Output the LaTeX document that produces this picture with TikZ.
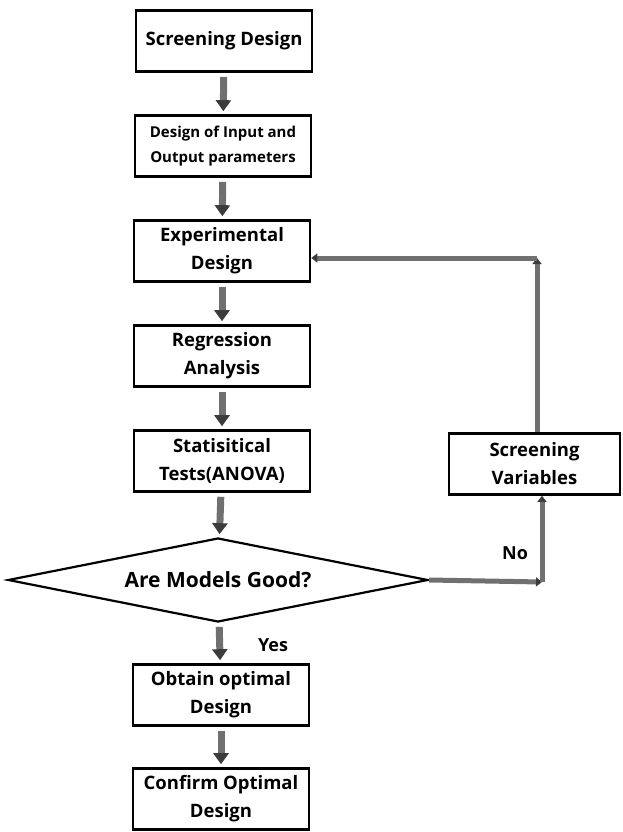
\documentclass[tikz,border=0pt]{standalone}
\usepackage{fontspec}
\setmainfont{Open Sans}
\usetikzlibrary{arrows.meta,shapes.geometric}
\definecolor{shaftgray}{HTML}{707070}
\definecolor{tipgray}{HTML}{3C3C3C}
\begin{document}
\begin{tikzpicture}[x=1pt,y=-1pt,
	stepbox/.style={rectangle, draw=black, line width=2.6pt, fill=white, minimum width=176pt, minimum height=61pt, align=center, inner sep=2pt, font=\bfseries\fontsize{18.5}{28}\selectfont},
	decision/.style={diamond, draw=black, line width=2.2pt, aspect=5, minimum width=420pt, minimum height=84pt, inner sep=0pt, font=\bfseries\fontsize{21}{24}\selectfont},
	flow/.style={-{Triangle[color=tipgray, width=15pt, length=11pt]}, shaftgray, line width=7pt, shorten <=4pt, shorten >=3pt},
	loop/.style={-{Triangle[color=tipgray, width=9pt, length=6pt]}, shaftgray, line width=5pt},
	lbl/.style={font=\bfseries\fontsize{18}{20}\selectfont}]
	\useasboundingbox (0,0) rectangle (623,832);

	% Main column of boxes
	\node[stepbox] (screen) at (224,41) {Screening Design};
	\node[stepbox, font=\bfseries\fontsize{15}{25}\selectfont] (inout) at (223,146) {Design of Input and\\Output parameters};
	\node[stepbox] (exper) at (222,251) {Experimental\\Design};
	\node[stepbox] (regr) at (222,356) {Regression\\Analysis};
	\node[stepbox] (stat) at (222,461) {Statisitical\\Tests(ANOVA)};

	% Decision diamond
	\node[decision] (good) at (218,580) {Are Models Good?};

	% Bottom boxes
	\node[stepbox] (optim) at (221,695) {Obtain optimal\\Design};
	\node[stepbox] (confirm) at (221,799) {Confirm Optimal\\Design};

	% Side box
	\node[stepbox, minimum width=171pt] (vars) at (534.5,464) {Screening\\Variables};

	% Corners of the feedback loop
	\coordinate (nocorner) at (542,582);
	\coordinate (topcorner) at (537,258);

	% Labels
	\node[lbl] (yes) at (273,645) {Yes};
	\node[lbl] (no) at (515,553) {No};

	% Arrows down the column
	\draw[flow] (screen) -- (inout);
	\draw[flow] (inout) -- (exper);
	\draw[flow] (exper) -- (regr);
	\draw[flow] (regr) -- (stat);
	\draw[flow] (stat) -- (good);
	\draw[flow] (good) -- (optim);
	\draw[flow] (optim) -- (confirm);

	% Feedback loop
	\draw[loop] (good.east) -- (nocorner);
	\draw[loop] (nocorner) -- (nocorner |- vars.south);
	\draw[loop] (topcorner |- vars.north) -- (topcorner);
	\draw[loop] (topcorner) -- (topcorner -| exper.east);
\end{tikzpicture}
\end{document}
